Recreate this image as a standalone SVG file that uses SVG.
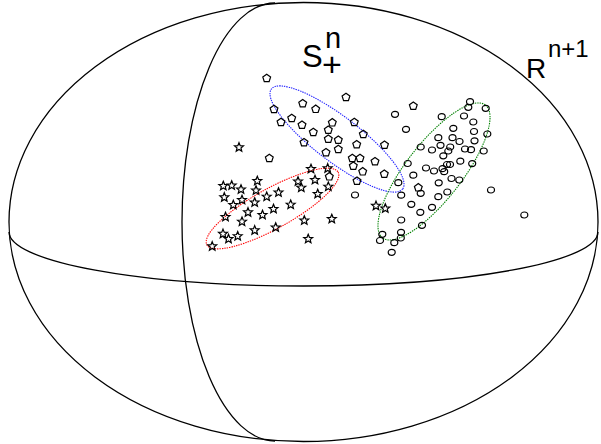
<svg xmlns="http://www.w3.org/2000/svg" xmlns:xlink="http://www.w3.org/1999/xlink" width="601" height="444" viewBox="0 0 601 444">
<defs>
<style>
.ln{fill:none;stroke:#000;stroke-width:1.3}
.mk{fill:none;stroke:#000;stroke-width:1.2;stroke-linejoin:miter}
.dot{fill:none;stroke-width:1.1;stroke-dasharray:1.4 1}
.lbl{font-family:"Liberation Sans",Arial,sans-serif;fill:#000}
</style>
<path id="st" class="mk" d="M0,-4.7 L1.22,-1.68 L4.47,-1.45 L1.98,0.64 L2.76,3.8 L0,2.08 L-2.76,3.8 L-1.98,0.64 L-4.47,-1.45 L-1.22,-1.68 Z"/>
<path id="pe" class="mk" d="M0,-4.1 L3.9,-1.27 L2.41,3.32 L-2.41,3.32 L-3.9,-1.27 Z"/>
<ellipse id="ci" class="mk" cx="0" cy="0" rx="3.5" ry="3.0"/>
</defs>
<rect width="601" height="444" fill="#fff"/>
<g id="sphere">
<ellipse class="ln" cx="303.5" cy="222" rx="294.5" ry="219.5"/>
<path class="ln" d="M9,232 A294.5 54 0 0 0 598,232"/>
<path class="ln" d="M275,3 A93 219 0 0 0 275,441"/>
</g>
<g id="clusters">
<ellipse class="dot" stroke="#ff0000" cx="272.5" cy="208.5" rx="75" ry="20" transform="rotate(-29 272.5 208.5)"/>
<ellipse class="dot" stroke="#2222ff" cx="337" cy="139" rx="82.5" ry="22.5" transform="rotate(37.3 337 139)"/>
<ellipse class="dot" stroke="#008000" cx="434" cy="171.5" rx="84" ry="28" transform="rotate(-52.2 434 171.5)"/>
</g>
<g id="stars">
<use href="#st" x="239" y="147.3"/>
<use href="#st" x="223.3" y="186"/>
<use href="#st" x="231.7" y="185.5"/>
<use href="#st" x="257.3" y="181"/>
<use href="#st" x="241" y="189.5"/>
<use href="#st" x="224.3" y="197.3"/>
<use href="#st" x="256" y="190.5"/>
<use href="#st" x="242" y="200"/>
<use href="#st" x="233.3" y="205"/>
<use href="#st" x="266.7" y="196.7"/>
<use href="#st" x="278.5" y="192.5"/>
<use href="#st" x="254.7" y="202.5"/>
<use href="#st" x="248" y="212.3"/>
<use href="#st" x="262.5" y="215"/>
<use href="#st" x="273.5" y="209"/>
<use href="#st" x="290.7" y="204.7"/>
<use href="#st" x="225.5" y="217"/>
<use href="#st" x="242" y="221.7"/>
<use href="#st" x="254.7" y="230.3"/>
<use href="#st" x="275.7" y="227.5"/>
<use href="#st" x="223" y="233.8"/>
<use href="#st" x="228.5" y="239"/>
<use href="#st" x="237.7" y="236.2"/>
<use href="#st" x="212.2" y="246.3"/>
<use href="#st" x="298" y="181.5"/>
<use href="#st" x="311" y="169"/>
<use href="#st" x="315" y="180"/>
<use href="#st" x="301.3" y="187.7"/>
<use href="#st" x="327.7" y="168.3"/>
<use href="#st" x="328.3" y="186.7"/>
<use href="#st" x="317.7" y="194"/>
<use href="#st" x="304.3" y="220.5"/>
<use href="#st" x="331.8" y="219"/>
<use href="#st" x="308.2" y="239"/>
<use href="#st" x="376" y="205.8"/>
<use href="#st" x="385.3" y="208.5"/>
</g>
<g id="pentagons">
<use href="#pe" x="266.7" y="78.3"/>
<use href="#pe" x="346" y="97.3"/>
<use href="#pe" x="274" y="109.3"/>
<use href="#pe" x="302.7" y="103.5"/>
<use href="#pe" x="315.7" y="109.2"/>
<use href="#pe" x="291.7" y="118.3"/>
<use href="#pe" x="281" y="122.3"/>
<use href="#pe" x="302" y="125"/>
<use href="#pe" x="332.3" y="122.7"/>
<use href="#pe" x="354.3" y="122.3"/>
<use href="#pe" x="313.3" y="132.3"/>
<use href="#pe" x="328.3" y="130"/>
<use href="#pe" x="363.3" y="134.3"/>
<use href="#pe" x="328.3" y="139"/>
<use href="#pe" x="338.3" y="140"/>
<use href="#pe" x="304" y="142.5"/>
<use href="#pe" x="356.7" y="144.5"/>
<use href="#pe" x="384.5" y="145"/>
<use href="#pe" x="326" y="152.5"/>
<use href="#pe" x="338.3" y="149.3"/>
<use href="#pe" x="352.3" y="158.3"/>
<use href="#pe" x="360" y="158.3"/>
<use href="#pe" x="375" y="161.5"/>
<use href="#pe" x="353.3" y="166"/>
<use href="#pe" x="362.7" y="171.7"/>
<use href="#pe" x="384.3" y="174"/>
<use href="#pe" x="329.3" y="176.7"/>
<use href="#pe" x="357" y="181"/>
<use href="#pe" x="269.3" y="158.3"/>
<use href="#pe" x="413.3" y="106"/>
<use href="#pe" x="418.3" y="187.7"/>
</g>
<g id="circles">
<use href="#ci" x="470" y="101.7"/>
<use href="#ci" x="468.3" y="107.3"/>
<use href="#ci" x="485.7" y="108.3"/>
<use href="#ci" x="395" y="114.3"/>
<use href="#ci" x="441.7" y="116.7"/>
<use href="#ci" x="464" y="116"/>
<use href="#ci" x="473.3" y="122"/>
<use href="#ci" x="406" y="129.3"/>
<use href="#ci" x="453.3" y="128.3"/>
<use href="#ci" x="474" y="131.5"/>
<use href="#ci" x="487.3" y="134"/>
<use href="#ci" x="438.3" y="137.7"/>
<use href="#ci" x="452.5" y="137.7"/>
<use href="#ci" x="459.5" y="141.5"/>
<use href="#ci" x="474.5" y="140.8"/>
<use href="#ci" x="420.7" y="147"/>
<use href="#ci" x="440.5" y="145.3"/>
<use href="#ci" x="450.2" y="147"/>
<use href="#ci" x="432" y="150"/>
<use href="#ci" x="448.3" y="151"/>
<use href="#ci" x="465" y="149"/>
<use href="#ci" x="471" y="149.7"/>
<use href="#ci" x="483.7" y="151"/>
<use href="#ci" x="443.3" y="155.8"/>
<use href="#ci" x="460.3" y="161.2"/>
<use href="#ci" x="472.2" y="163.6"/>
<use href="#ci" x="407.7" y="163.5"/>
<use href="#ci" x="447" y="164.5"/>
<use href="#ci" x="450" y="164.5"/>
<use href="#ci" x="426" y="168"/>
<use href="#ci" x="434" y="171"/>
<use href="#ci" x="442.5" y="168.7"/>
<use href="#ci" x="444.2" y="171.7"/>
<use href="#ci" x="413.3" y="175.2"/>
<use href="#ci" x="451.5" y="178.5"/>
<use href="#ci" x="459.3" y="180"/>
<use href="#ci" x="438.7" y="182.8"/>
<use href="#ci" x="398.3" y="182.7"/>
<use href="#ci" x="420.7" y="193.3"/>
<use href="#ci" x="447.3" y="192"/>
<use href="#ci" x="491" y="190"/>
<use href="#ci" x="401.2" y="195.2"/>
<use href="#ci" x="438.3" y="196.7"/>
<use href="#ci" x="411.3" y="204.3"/>
<use href="#ci" x="432" y="207.3"/>
<use href="#ci" x="420.3" y="212.3"/>
<use href="#ci" x="401.2" y="220"/>
<use href="#ci" x="422" y="225.3"/>
<use href="#ci" x="524.3" y="215"/>
<use href="#ci" x="382.3" y="234.3"/>
<use href="#ci" x="401" y="232.3"/>
<use href="#ci" x="400.8" y="238"/>
<use href="#ci" x="380" y="240.5"/>
<use href="#ci" x="394.3" y="242.7"/>
<use href="#ci" x="391.7" y="252.3"/>
<use href="#ci" x="355" y="195"/>
</g>
<g id="labels">
<text class="lbl" x="302" y="67" font-size="31">S<tspan x="325" y="48" font-size="29">n</tspan><tspan x="322" y="76" font-size="34">+</tspan></text>
<text class="lbl" x="526" y="78" font-size="28">R<tspan x="548" y="57" font-size="24">n+1</tspan></text>
</g>
</svg>
